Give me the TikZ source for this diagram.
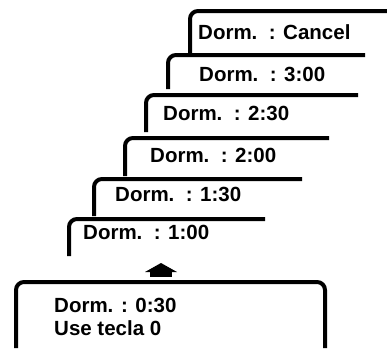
\documentclass[tikz,border=0pt]{standalone}
\usepackage{fontspec}
\setmainfont{Liberation Sans}

\begin{document}
\begin{tikzpicture}[x=1pt,y=-1pt, every node/.style={font=\fontsize{20.5}{23}\selectfont\bfseries, inner sep=0pt, anchor=base west},
    card/.style={line width=4pt, rounded corners=8pt}]
    \useasboundingbox (0,0) rectangle (387,348);

    % stacked timer cards, from the back to the front
    \foreach \i/\lx/\ty/\yb/\rx/\tx/\by/\val in {1/190/11/53/387/198/39/Cancel,
        2/168/55/89/365/199/81/3:00, 3/146/95/132/358/163/120/2:30,
        4/125/138/176/329/150/162/2:00, 5/94/179/216/302/115/201/1:30,
        6/69/219/256/265/83/239/1:00} {
        \draw[card] (\lx,\yb) -- (\lx,\ty) -- (\rx,\ty);
        \node (dorm\i) at (\tx,\by) {Dorm.\ \ : \val};
    }

    % arrow up
    \fill (145,272) -- (161,263) -- (177,272) -- cycle;
    \fill (150,271) rectangle (172,277);

    % display box
    \draw[card] (16,348) -- (16,282) -- (325,282) -- (325,348);
    \node (now) at (54,312.5) {Dorm. : 0:30};
    \node (key) at (54,335) {Use tecla 0};
\end{tikzpicture}
\end{document}
